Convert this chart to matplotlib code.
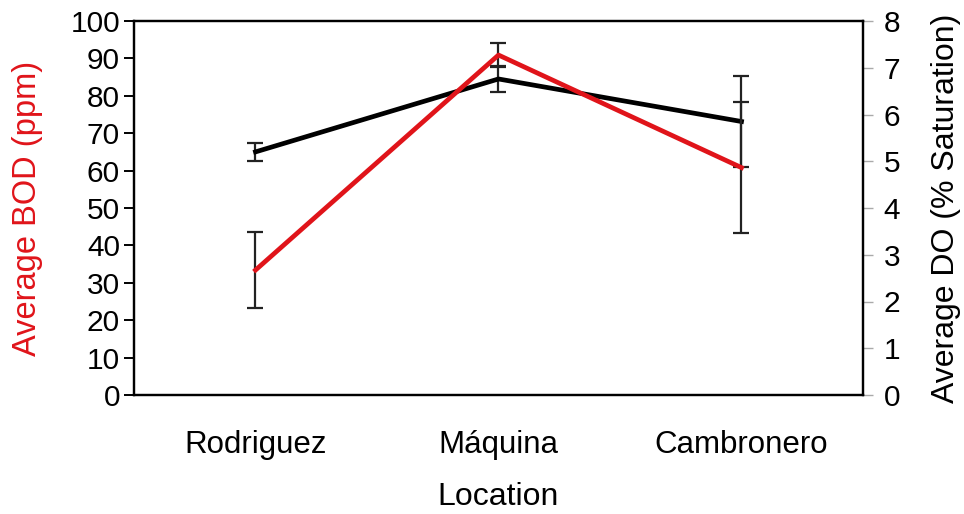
import matplotlib
matplotlib.use("Agg")
import matplotlib.pyplot as plt
import numpy as np

plt.rcParams["font.family"] = ["Liberation Sans", "DejaVu Sans"]

locations = ["Rodriguez", "Máquina", "Cambronero"]
bod_mean = [33.4, 90.9, 60.8]
bod_err = [10.2, 3.1, 17.5]
do_mean = [5.20, 6.76, 5.85]
do_err = [0.20, 0.28, 0.98]

RED = "#e0141a"
BLACK = "#000000"

fig = plt.figure(figsize=(9.64, 5.14), dpi=100)
ax = fig.add_axes([134 / 964, 1 - 395 / 514, (863 - 134) / 964, (395 - 21) / 514])
ax2 = ax.twinx()

x = np.arange(len(locations))

ax.errorbar(x, bod_mean, yerr=bod_err, color=RED, lw=3.4, ecolor="#222222",
            elinewidth=1.6, capsize=6, capthick=1.6, zorder=3)
ax2.errorbar(x, do_mean, yerr=do_err, color=BLACK, lw=3.4, ecolor="#222222",
             elinewidth=1.6, capsize=6, capthick=1.6, zorder=3)

ax.set_xlim(-0.5, 2.5)
ax.set_ylim(0, 100)
ax.set_yticks(np.arange(0, 101, 10))
ax2.set_ylim(0, 8)
ax2.set_yticks(np.arange(0, 9, 1))

ax.set_xticks(x)
ax.set_xticklabels(locations, fontsize=22.5)
ax.tick_params(axis="x", length=0, pad=25)
ax.tick_params(axis="y", direction="out", length=7, width=1.4, labelsize=21.5,
               pad=3, color=BLACK)
ax2.tick_params(axis="y", direction="out", length=7, width=1.0, labelsize=21.5,
                pad=8, color="#aaaaaa")

for a in (ax, ax2):
    for s in a.spines.values():
        s.set_linewidth(1.6)
        s.set_color(BLACK)

ax.set_ylabel("Average BOD (ppm)", color=RED, fontsize=23.5, labelpad=20)
ax2.set_ylabel("Average DO (% Saturation)", color=BLACK, fontsize=23, labelpad=22)
ax.set_xlabel("Location", fontsize=23, labelpad=16)

# put the red series above the black one
ax.set_zorder(ax2.get_zorder() + 1)
ax.patch.set_visible(False)

fig.savefig("out.png", dpi=100, facecolor="white")
